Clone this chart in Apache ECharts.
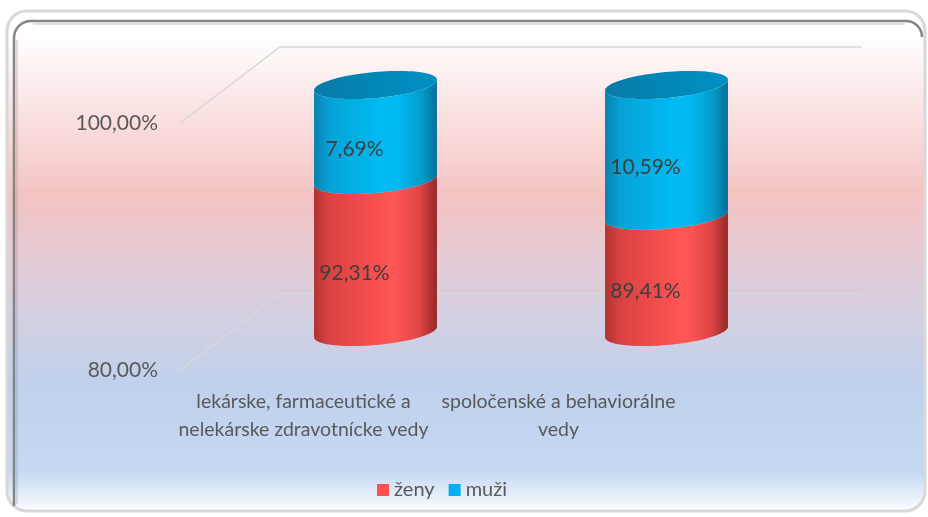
<!DOCTYPE html>
<html>
<head>
<meta charset="utf-8">
<script src="https://cdn.jsdelivr.net/npm/echarts@6/dist/echarts.min.js"></script>
<style>
html,body{margin:0;padding:0;background:#ffffff;}
#chart{width:928px;height:517px;}
</style>
</head>
<body>
<div id="chart"></div>
<script>
// ---- data ----
const categories = ['lekárske, farmaceutické a\nnelekárske zdravotnícke vedy', 'spoločenské a behaviorálne\nvedy'];
const seriesNames = ['ženy', 'muži'];
const zeny = [92.31, 89.41];
const muzi = [7.69, 10.59];
const yMin = 80;
const yMax = 100;
const yInterval = 20;
const yTicks = [80, 100];

// ---- style constants ----
const DX = 100, DY = -76;           // 3D depth offset (front -> back)
const FONT = 'Lato, "Open Sans", sans-serif';

function fmt(v) { return v.toFixed(2).replace('.', ',') + '%'; }

// stacked data built from arrays
const zenyData = zeny.map((v, i) => [i, 0, v]);
const muziData = muzi.map((v, i) => [i, zeny[i], zeny[i] + v]);
const gridData = yTicks.map(v => [0, v]);

const lin = echarts.graphic.LinearGradient;
const redBody = () => new lin(0, 0, 1, 0, [
  {offset: 0, color: '#b23232'}, {offset: 0.12, color: '#d94242'},
  {offset: 0.5, color: '#f94f4f'}, {offset: 0.66, color: '#ff5656'},
  {offset: 0.86, color: '#e04545'}, {offset: 1, color: '#962828'}]);
const blueBody = () => new lin(0, 0, 1, 0, [
  {offset: 0, color: '#0a80ad'}, {offset: 0.12, color: '#05a2d6'},
  {offset: 0.55, color: '#00bbf2'}, {offset: 0.7, color: '#00b8ef'},
  {offset: 0.88, color: '#049bcb'}, {offset: 1, color: '#046f97'}]);
const blueCap = () => new lin(0, 0, 1, 0, [
  {offset: 0, color: '#0a7aa6'}, {offset: 0.5, color: '#0087b8'}, {offset: 1, color: '#0090c2'}]);

function ellPt(cx, cy, rx, ry, phi, t) {
  const c = Math.cos(t), s = Math.sin(t), cp = Math.cos(phi), sp = Math.sin(phi);
  return [cx + rx * c * cp - ry * s * sp, cy + rx * c * sp + ry * s * cp];
}

function makeCylinder(bodyGrad, withCap) {
  return function (params, api) {
    const i = api.value(0), s = api.value(1), e = api.value(2);
    const lo = Math.max(s, yMin), hi = Math.min(e, yMax);
    const pLo = api.coord([i, lo]);
    const pHi = api.coord([i, hi]);
    const pMid = api.coord([i, (lo + hi) / 2]);
    const band = api.size([1, 0])[0];
    const rx = band * 0.212, ry = 13, phi = -0.09;
    const cx = pLo[0] + DX / 2;
    const yb = pLo[1] + DY / 2, yt = pHi[1] + DY / 2;
    const t0 = Math.atan2(-ry * Math.sin(phi), rx * Math.cos(phi));
    const N = 48, pts = [];
    for (let k = 0; k <= N; k++) pts.push(ellPt(cx, yb, rx, ry, phi, t0 + Math.PI - Math.PI * k / N));
    for (let k = 0; k <= N; k++) pts.push(ellPt(cx, yt, rx, ry, phi, t0 + Math.PI * k / N));
    const children = [{type: 'polygon', shape: {points: pts}, style: {fill: bodyGrad()}}];
    if (withCap) {
      const cap = [];
      for (let k = 0; k < 96; k++) cap.push(ellPt(cx, yt, rx, ry, phi, 2 * Math.PI * k / 96));
      children.push({type: 'polygon', shape: {points: cap}, style: {fill: blueCap()}});
    }
    children.push({type: 'text', style: {
      text: fmt(e - s), x: pMid[0] + 29, y: pMid[1] - 21,
      fill: '#3f3f3f', fontSize: 21, fontFamily: FONT,
      align: 'center', verticalAlign: 'middle', textAlign: 'center', textVerticalAlign: 'middle'}});
    return {type: 'group', children: children};
  };
}

const chart = echarts.init(document.getElementById('chart'), null, {renderer: 'canvas'});
const frameStroke = {stroke: '#858585', lineWidth: 2.5, fill: null};
chart.setOption({
  animation: false,
  backgroundColor: '#ffffff',
  graphic: [
    {type: 'rect', z: -10, shape: {x: 7, y: 11, width: 918, height: 500, r: 20},
     style: {fill: new lin(0, 0, 0, 1, [
       {offset: 0, color: '#ffffff'}, {offset: 0.05, color: '#ffffff'},
       {offset: 0.18, color: '#fbe6e6'}, {offset: 0.37, color: '#f4c3c3'},
       {offset: 0.5, color: '#e3cad5'}, {offset: 0.62, color: '#d1d0e2'},
       {offset: 0.75, color: '#bfd1ec'}, {offset: 0.92, color: '#c6d9f2'},
       {offset: 0.97, color: '#e8f0fa'}, {offset: 1, color: '#ffffff'}]),
       stroke: '#d8d8d8', lineWidth: 3}},
    {type: 'line', z: -9, shape: {x1: 14, y1: 38, x2: 14, y2: 506}, style: frameStroke},
    {type: 'line', z: -9, shape: {x1: 31, y1: 21, x2: 906, y2: 21}, style: frameStroke},
    {type: 'arc', z: -9, shape: {cx: 31, cy: 38, r: 17, startAngle: Math.PI, endAngle: 1.5 * Math.PI, clockwise: true}, style: frameStroke},
    {type: 'arc', z: -9, shape: {cx: 906, cy: 37, r: 16, startAngle: 1.5 * Math.PI, endAngle: 2 * Math.PI, clockwise: true}, style: frameStroke},
    {type: 'line', z: -9, shape: {x1: 17, y1: 40, x2: 17, y2: 504}, style: {stroke: 'rgba(150,150,150,0.3)', lineWidth: 2}},
    {type: 'line', z: -9, shape: {x1: 33, y1: 24, x2: 905, y2: 24}, style: {stroke: 'rgba(150,150,150,0.3)', lineWidth: 2}}
  ],
  legend: {
    data: seriesNames, left: 372, top: 475, icon: 'rect', itemWidth: 12, itemHeight: 12, itemGap: 14,
    textStyle: {fontSize: 20, color: '#595959', fontFamily: FONT, padding: [0, 0, 0, 0]}
  },
  grid: [
    {left: 180, right: 166, top: 123, bottom: 147},
    {left: 176, width: 510, top: 123, bottom: 147}
  ],
  xAxis: [
    {type: 'category', gridIndex: 0, data: categories, axisLine: {show: false}, axisTick: {show: false}, axisLabel: {show: false}},
    {type: 'category', gridIndex: 1, data: categories, axisLine: {show: false}, axisTick: {show: false},
     axisLabel: {margin: 18, fontSize: 19.5, lineHeight: 28, color: '#595959', fontFamily: FONT, interval: 0}}
  ],
  yAxis: [
    {type: 'value', gridIndex: 0, min: yMin, max: yMax, interval: yInterval,
     axisLine: {show: false}, axisTick: {show: false}, splitLine: {show: false},
     axisLabel: {formatter: fmt, margin: 22, fontSize: 21, color: '#595959', fontFamily: FONT}},
    {type: 'value', gridIndex: 1, min: yMin, max: yMax, show: false}
  ],
  series: [
    {type: 'custom', name: 'grid3d', xAxisIndex: 0, yAxisIndex: 0, z: 1, silent: true,
     encode: {x: 0, y: 1}, data: gridData,
     renderItem: function (params, api) {
       const p = api.coord([0, api.value(1)]);
       const L = params.coordSys.x, R = params.coordSys.x + params.coordSys.width;
       return {type: 'polyline', shape: {points: [[L, p[1]], [L + DX, p[1] + DY], [R + DX, p[1] + DY]]},
               style: {stroke: '#d9d9d9', lineWidth: 1.5, fill: null}};
     }},
    {type: 'custom', name: seriesNames[0], xAxisIndex: 0, yAxisIndex: 0, z: 2,
     itemStyle: {color: '#ff5050'}, encode: {x: 0, y: [1, 2]}, data: zenyData,
     renderItem: makeCylinder(redBody, false)},
    {type: 'custom', name: seriesNames[1], xAxisIndex: 0, yAxisIndex: 0, z: 3,
     itemStyle: {color: '#00b0f0'}, encode: {x: 0, y: [1, 2]}, data: muziData,
     renderItem: makeCylinder(blueBody, true)}
  ]
});
</script>
</body>
</html>
